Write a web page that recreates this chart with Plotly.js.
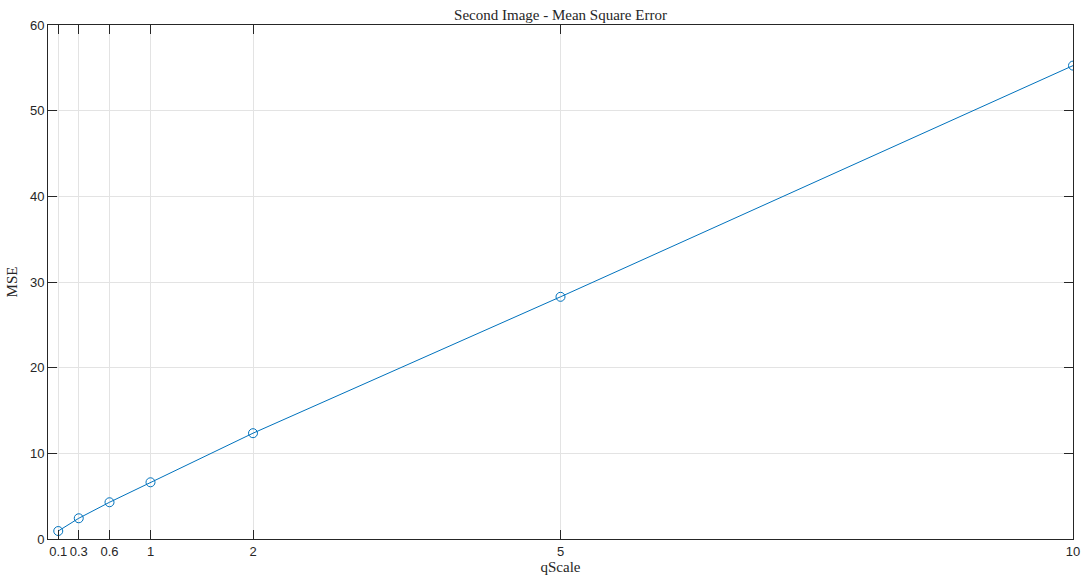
<!DOCTYPE html>
<html>
<head>
<meta charset="utf-8">
<script src="https://cdn.plot.ly/plotly-3.0.1.min.js"></script>
<style>
  html, body { margin: 0; padding: 0; background: #fff; }
  #chart { width: 1083px; height: 580px; }
</style>
</head>
<body>
<div id="chart"></div>
<script>
// Quantisation scale factors and the resulting mean square error
const qScale = [0.1, 0.3, 0.6, 1, 2, 5, 10];
const mse = [0.93, 2.42, 4.29, 6.62, 12.35, 28.27, 55.26];

const xTicks = [0.1, 0.3, 0.6, 1, 2, 5, 10];
const xTickText = ['0.1', '0.3', '0.6', '1', '2', '5', '10'];
const yTicks = [0, 10, 20, 30, 40, 50, 60];

const axisColor = '#262626';
const gridColor = '#e3e3e3';
const serif = '"Liberation Serif", "DejaVu Serif", serif';
const sans = '"Liberation Sans", Arial, sans-serif';

const trace = {
  x: qScale,
  y: mse,
  type: 'scatter',
  mode: 'lines+markers',
  line: { color: '#0072BD', width: 1 },
  marker: {
    symbol: 'circle-open',
    size: 9,
    color: '#0072BD',
    line: { width: 1, color: '#0072BD' }
  },
  hoverinfo: 'x+y'
};

const commonAxis = {
  showline: true,
  linecolor: axisColor,
  linewidth: 1,
  mirror: 'ticks',
  ticks: 'inside',
  ticklen: 9,
  tickwidth: 1,
  tickcolor: axisColor,
  showgrid: true,
  gridcolor: gridColor,
  gridwidth: 1,
  zeroline: false,
  tickfont: { family: sans, size: 13, color: axisColor }
};

const layout = {
  width: 1083,
  height: 580,
  margin: { l: 48, r: 10, t: 25, b: 41, pad: 0 },
  paper_bgcolor: '#ffffff',
  plot_bgcolor: '#ffffff',
  showlegend: false,
  title: {
    text: 'Second Image - Mean Square Error',
    font: { family: serif, size: 15, color: axisColor },
    x: 0.5,
    xref: 'paper',
    xanchor: 'center',
    y: 1,
    yref: 'paper',
    yanchor: 'bottom',
    pad: { b: 5 }
  },
  xaxis: Object.assign({}, commonAxis, {
    range: [0, 10],
    tickmode: 'array',
    tickvals: xTicks,
    ticktext: xTickText,
    title: { text: 'qScale', font: { family: serif, size: 15, color: axisColor }, standoff: 3 }
  }),
  yaxis: Object.assign({}, commonAxis, {
    range: [0, 60],
    tickmode: 'array',
    tickvals: yTicks,
    title: { text: 'MSE', font: { family: serif, size: 15, color: axisColor }, standoff: 8 }
  })
};

Plotly.newPlot('chart', [trace], layout, { displayModeBar: false, staticPlot: true });
</script>
</body>
</html>
